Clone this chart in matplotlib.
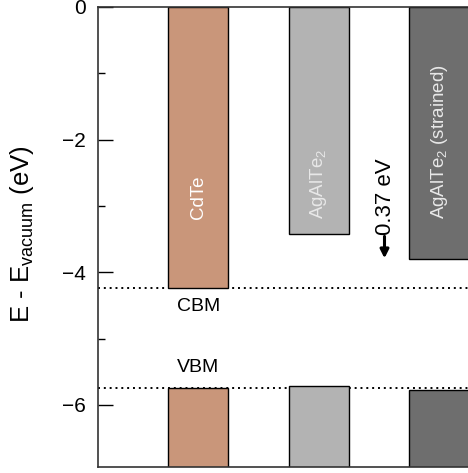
import matplotlib
matplotlib.use("Agg")
import matplotlib.pyplot as plt

plt.rcParams['font.family'] = ['Liberation Sans', 'DejaVu Sans']
plt.rcParams['mathtext.fontset'] = 'custom'
plt.rcParams['mathtext.rm'] = 'Liberation Sans'
plt.rcParams['mathtext.it'] = 'Liberation Sans:italic'

materials = ['CdTe', 'AgAlTe$_2$', 'AgAlTe$_2$ (strained)']
cbm = [-4.24, -3.43, -3.80]
vbm = [-5.75, -5.72, -5.78]
colors = ['#C9967A', '#B3B3B3', '#6E6E6E']
label_colors = ['white', '#E8E8E8', '#E8E8E8']
ref_cbm = -4.24
ref_vbm = -5.75
offset_label = '0.37 eV'
yticks = [0, -2, -4, -6]

xpos = [1, 2, 3]
ylo, yhi = -6.93, 0.0

fig = plt.figure(figsize=(4.68, 4.73), dpi=100)
ax = fig.add_axes([98/468, 1 - 466.5/473, (499.6 - 98)/468, (466.5 - 7)/473])
ax.set_xlim(0.168, 3.5)
ax.set_ylim(ylo, yhi)

ax.axhline(ref_cbm, color='black', ls=(0, (1, 2)), lw=1.4, zorder=1)
ax.axhline(ref_vbm, color='black', ls=(0, (1, 2)), lw=1.4, zorder=1)

for x, c, v, col in zip(xpos, cbm, vbm, colors):
    ax.bar(x, c - yhi, bottom=yhi, width=0.5, color=col, edgecolor='black', lw=1.0, zorder=2)
    ax.bar(x, v - (ylo - 1), bottom=ylo - 1, width=0.5, color=col, edgecolor='black', lw=1.0, zorder=2)

for x, name, lc in zip(xpos, materials, label_colors):
    ax.text(x, -3.2, name, rotation=90, ha='center', va='bottom', color=lc, fontsize=13.5, zorder=3)

ax.text(2.55, -3.44, offset_label, rotation=90, ha='center', va='bottom', fontsize=16, zorder=3)
ax.annotate('', xy=(2.545, cbm[2] + 0.01), xytext=(2.545, cbm[1] - 0.03),
            arrowprops=dict(arrowstyle='-|>,head_length=0.5,head_width=0.25', color='black', lw=2.2,
                            shrinkA=0, shrinkB=0), zorder=3)

ax.text(1.0, -4.51, 'CBM', ha='center', va='center', fontsize=14)
ax.text(1.0, -5.43, 'VBM', ha='center', va='center', fontsize=14)

ax.set_yticks(yticks)
ax.set_yticklabels(['0', '\u22122', '\u22124', '\u22126'])
ax.set_yticks([-1, -3, -5], minor=True)
ax.tick_params(axis='y', which='major', direction='in', length=10.6, width=1, labelsize=15, pad=9)
ax.tick_params(axis='y', which='minor', direction='in', length=5, width=1)
ax.set_xticks([])
for s in ax.spines.values():
    s.set_linewidth(1.2)
    s.set_color('#333333')

fig.text(22/468, 1 - 234/473, 'E - E$_{\\mathrm{vacuum}}$ (eV)', rotation=90, ha='center', va='center', fontsize=18.5)

fig.savefig('out.png', dpi=100)
